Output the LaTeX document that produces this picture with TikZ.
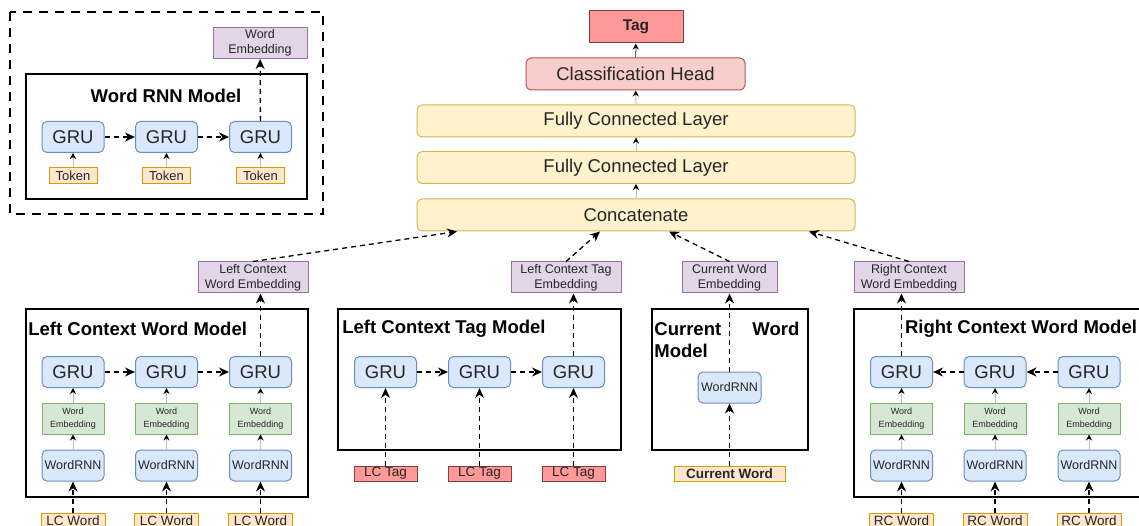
\documentclass[tikz,border=0pt]{standalone}
\usepackage{fontspec}
\setmainfont{Liberation Sans}
\usetikzlibrary{arrows.meta,positioning}
\definecolor{bluefill}{HTML}{DAE8FC}
\definecolor{blueline}{HTML}{6C8EBF}
\definecolor{greenfill}{HTML}{D5E8D4}
\definecolor{greenline}{HTML}{82B366}
\definecolor{purplefill}{HTML}{E1D5E7}
\definecolor{purpleline}{HTML}{9673A6}
\definecolor{orangefill}{HTML}{FFE6CC}
\definecolor{orangeline}{HTML}{D79B00}
\definecolor{yellowfill}{HTML}{FFF2CC}
\definecolor{yellowline}{HTML}{D6B656}
\definecolor{redfill}{HTML}{F8CECC}
\definecolor{redline}{HTML}{B85450}
\definecolor{tagfill}{HTML}{FF9999}
\definecolor{tagline}{HTML}{8C3B3B}
\tikzset{
  basic/.style   = {draw, inner sep=0pt, align=center, text=black!85, line width=1pt},
  gru/.style     = {basic, rounded corners=5pt, fill=bluefill, draw=blueline,
                    minimum width=62pt, minimum height=31pt, font=\fontsize{18.5}{22}\selectfont},
  wordrnn/.style = {gru, font=\fontsize{12.5}{15}\selectfont},
  wemb/.style    = {basic, fill=greenfill, draw=greenline, minimum width=62pt,
                    minimum height=31pt, font=\fontsize{9}{12.5}\selectfont},
  embed/.style   = {basic, fill=purplefill, draw=purpleline, minimum height=31pt,
                    font=\fontsize{12.5}{15}\selectfont},
  inword/.style  = {basic, fill=orangefill, draw=orangeline, minimum width=64pt,
                    minimum height=16pt, font=\fontsize{13.5}{16}\selectfont},
  intag/.style   = {basic, fill=tagfill, draw=tagline, minimum width=63pt,
                    minimum height=15pt, font=\fontsize{13.5}{16}\selectfont},
  layer/.style   = {basic, rounded corners=5pt, fill=yellowfill, draw=yellowline,
                    minimum width=438pt, minimum height=32pt, font=\fontsize{18.5}{22}\selectfont},
  model/.style   = {draw, line width=1.6pt, inner sep=0pt},
  title/.style   = {inner sep=0pt, font=\bfseries\fontsize{18.5}{22}\selectfont},
  flow/.style    = {draw, line width=1.3pt, dash pattern=on 5pt off 4pt,
                    -{Stealth[length=10pt,width=9pt]}},
  feed/.style    = {draw=black!25, line width=1pt, -{Stealth[color=black,length=6pt,width=6pt]}}
}

\begin{document}
\begin{tikzpicture}[x=1pt, y=-1pt]
\useasboundingbox (0,0) rectangle (1139,526);
\clip (0,0) rectangle (1139,526);

% word rnn detail
\draw[line width=1.5pt, dash pattern=on 9pt off 7pt] (10,12) rectangle (323,214);
\node[model, minimum width=281pt, minimum height=125pt] (wrnn) at (166.5,136.5) {};
\node[title] (wrnnt) at (166,96) {Word RNN Model};
\node[embed, minimum width=94pt] (wout) at (260,43) {Word\\Embedding};
\foreach \i/\x in {1/73,2/166.5,3/260.5} {
  \node[gru] (wg\i) at (\x,137) {GRU};
  \node[inword, minimum width=48pt, font=\fontsize{13}{16}\selectfont] (wt\i) at (\x,176) {Token};
  \draw[feed] (wt\i) -- (wg\i);
}
\draw[flow] (wg1) -- (wg2);
\draw[flow] (wg2) -- (wg3);
\draw[flow] (wg3) -- (wout);

% head
\node[basic, fill=tagfill, draw=tagline, minimum width=94pt, minimum height=32pt,
      font=\bfseries\fontsize{15.5}{18}\selectfont] (tag) at (636,27) {Tag};
\node[basic, rounded corners=5pt, fill=redfill, draw=redline, minimum width=219pt,
      minimum height=32pt, font=\fontsize{18.5}{22}\selectfont] (head) at (635.5,74) {Classification Head};
\node[layer] (fc1) at (636,121) {Fully Connected Layer};
\node[layer] (fc2) at (636,167.5) {Fully Connected Layer};
\node[layer] (concat) at (636,215) {Concatenate};
\draw[feed] (concat) -- (fc2);
\draw[feed] (fc2) -- (fc1);
\draw[feed] (fc1) -- (head);
\draw[feed, draw=black!60] (head) -- (tag);

% embeddings
\node[embed, minimum width=110pt] (lcwe) at (253,277.5) {Left Context\\Word Embedding};
\node[embed, minimum width=110pt] (lcte) at (566,277.5) {Left Context Tag\\Embedding};
\node[embed, minimum width=95pt] (cwe) at (729.5,277.5) {Current Word\\Embedding};
\node[embed, minimum width=110pt] (rcwe) at (909,277.5) {Right Context\\Word Embedding};
\draw[flow] (lcwe.north) -- ([xshift=-179pt]concat.south);
\draw[flow] (lcte.north) -- ([xshift=-36pt]concat.south);
\draw[flow] (cwe.north) -- ([xshift=33pt]concat.south);
\draw[flow] (rcwe.north) -- ([xshift=173pt]concat.south);

% model boxes
\node[model, minimum width=282pt, minimum height=188pt] (lcwm) at (167,403) {};
\node[model, minimum width=283pt, minimum height=141pt] (lctm) at (479.5,379.5) {};
\node[model, minimum width=156pt, minimum height=141pt] (cwm) at (730,379.5) {};
\node[model, minimum width=334pt, minimum height=188pt] (rcwm) at (1021,403) {};
\node[title, anchor=west] at ([xshift=3pt,yshift=-21pt]lcwm.north west) {Left Context Word Model};
\node[title, anchor=west] at ([xshift=5pt,yshift=-21pt]lctm.north west) {Left Context Tag Model};
\node[title, anchor=north west, text width=145pt, align=left] at ([xshift=3pt,yshift=-14pt]cwm.north west) {Current\hfill Word\\Model};
\node[title] at ([yshift=-21pt]rcwm.north) {Right Context Word Model};

% left context words
\foreach \i/\x in {1/73,2/166.5,3/260.5} {
  \node[gru] (lg\i) at (\x,372) {GRU};
  \node[wemb] (le\i) at (\x,418.5) {Word\\Embedding};
  \node[wordrnn] (lr\i) at (\x,465.5) {WordRNN};
  \node[inword] (li\i) at (\x,521) {LC Word};
  \draw[flow] (li\i) -- (lr\i);
  \draw[feed] (lr\i) -- (le\i);
  \draw[feed] (le\i) -- (lg\i);
}
\draw[flow] (lg1) -- (lg2);
\draw[flow] (lg2) -- (lg3);
\draw[flow] (lg3.north) -- (lg3.north |- lcwe.south);

% left context tags
\foreach \i/\x in {1/385.5,2/479.5,3/573.5} {
  \node[gru] (tg\i) at (\x,372) {GRU};
  \node[intag] (ti\i) at (\x,473.5) {LC Tag};
  \draw[flow] (ti\i) -- (tg\i);
}
\draw[flow] (tg1) -- (tg2);
\draw[flow] (tg2) -- (tg3);
\draw[flow] (tg3.north) -- (tg3.north |- lcte.south);

% current word
\node[wordrnn, minimum width=63pt] (cr) at (729.5,387.5) {WordRNN};
\node[inword, minimum width=111pt, minimum height=15pt,
      font=\bfseries\fontsize{13.5}{16}\selectfont] (ci) at (729.5,473.5) {Current Word};
\draw[flow] (ci) -- (cr);
\draw[flow] (cr.north) -- (cr.north |- cwe.south);

% right context words
\foreach \i/\x in {1/901.5,2/995,3/1089} {
  \node[gru] (rg\i) at (\x,372) {GRU};
  \node[wemb] (re\i) at (\x,418.5) {Word\\Embedding};
  \node[wordrnn] (rr\i) at (\x,465.5) {WordRNN};
  \node[inword] (ri\i) at (\x,521) {RC Word};
  \draw[flow] (ri\i) -- (rr\i);
  \draw[feed] (rr\i) -- (re\i);
  \draw[feed] (re\i) -- (rg\i);
}
\draw[flow] (rg3) -- (rg2);
\draw[flow] (rg2) -- (rg1);
\draw[flow] (rg1.north) -- (rg1.north |- rcwe.south);
\end{tikzpicture}
\end{document}
